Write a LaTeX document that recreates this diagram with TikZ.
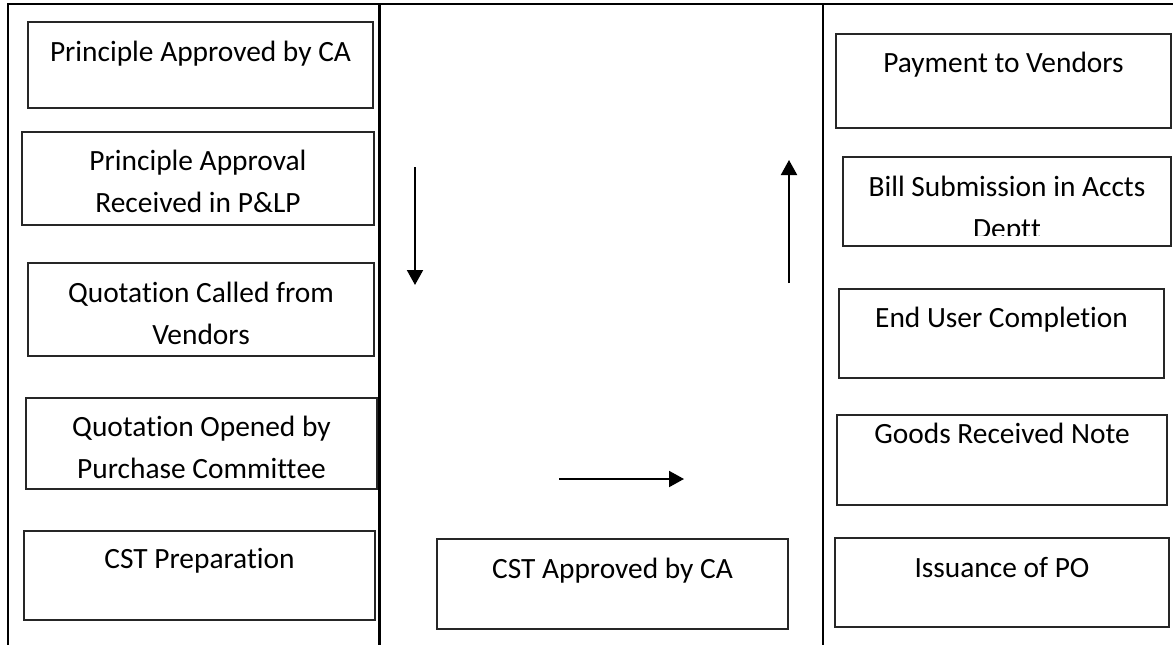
\documentclass[tikz,border=0pt]{standalone}
\usepackage{fontspec}
\setmainfont{Carlito}[Ligatures={CommonOff,ContextualOff,RareOff}]
\usetikzlibrary{arrows.meta}
\begin{document}
\begin{tikzpicture}[x=1pt,y=-1pt,
  box/.style={draw=black!85,line width=1.5pt,rectangle,inner sep=0pt},
  lbl/.style={anchor=base,inner sep=0pt,font=\fontsize{29.4}{42}\selectfont,align=center},
  frame/.style={line width=2.2pt,black},
  flow/.style={line width=2pt,-{Triangle[width=16pt,length=15pt]}}]
\useasboundingbox (0,0) rectangle (1173,645);
% frame
\draw[frame] (8,645) -- (8,4) -- (1173,4);
\draw[frame] (379.5,4) -- (379.5,645);
\draw[frame] (823,4) -- (823,645);
% left column
\node[box,minimum width=345pt,minimum height=86pt] (b1) at (200.5,65) {};
\node[lbl] (t1) at (200.5,61) {Principle Approved by CA};
\node[box,minimum width=352pt,minimum height=93pt] (b2) at (198,178.5) {};
\node[lbl] (t2) at (198,212) {Principle Approval\\Received in P\&LP};
\node[box,minimum width=346pt,minimum height=93pt] (b3) at (201,309.5) {};
\node[lbl] (t3) at (201,344) {Quotat\kern0ption Called from\\Vendors};
\node[box,minimum width=351pt,minimum height=91pt] (b4) at (201.5,443.5) {};
\node[lbl] (t4) at (201.5,478) {Quotat\kern0ption Opened by\\Purchase Committ\kern0ptee};
\node[box,minimum width=351pt,minimum height=89pt] (b5) at (199.5,575.5) {};
\node[lbl] (t5) at (199.5,568) {CST Preparat\kern0ption};
% middle column
\node[box,minimum width=351pt,minimum height=90pt] (m1) at (612.5,584) {};
\node[lbl] (tm1) at (612.5,578) {CST Approved by CA};
\coordinate (d1) at (415,167);
\coordinate (d2) at (415,285);
\coordinate (u1) at (789,283);
\coordinate (u2) at (789,160);
\coordinate (r1) at (559,479);
\coordinate (r2) at (684,479);
\draw[flow] (d1) -- (d2);
\draw[flow] (u1) -- (u2);
\draw[flow] (r1) -- (r2);
% right column
\node[box,minimum width=335pt,minimum height=94pt] (p1) at (1003.5,81) {};
\node[lbl] (tp1) at (1003.5,72) {Payment to Vendors};
\node[box,minimum width=328pt,minimum height=89pt] (p2) at (1007,201.5) {};
\begin{scope}
\clip (844,158) rectangle (1170,235);
\node[lbl] (tp2) at (1007,238) {Bill Submission in Accts\\Dept\kern0ptt};
\end{scope}
\node[box,minimum width=325pt,minimum height=89pt] (p3) at (1001.5,333.5) {};
\node[lbl] (tp3) at (1001.5,327) {End User Complet\kern0ption};
\node[box,minimum width=330pt,minimum height=90pt] (p4) at (1002,460) {};
\node[lbl] (tp4) at (1002,443) {Goods Received Note};
\node[box,minimum width=334pt,minimum height=89pt] (p5) at (1002,582.5) {};
\node[lbl] (tp5) at (1002,577) {Issuance of PO};
\end{tikzpicture}
\end{document}
